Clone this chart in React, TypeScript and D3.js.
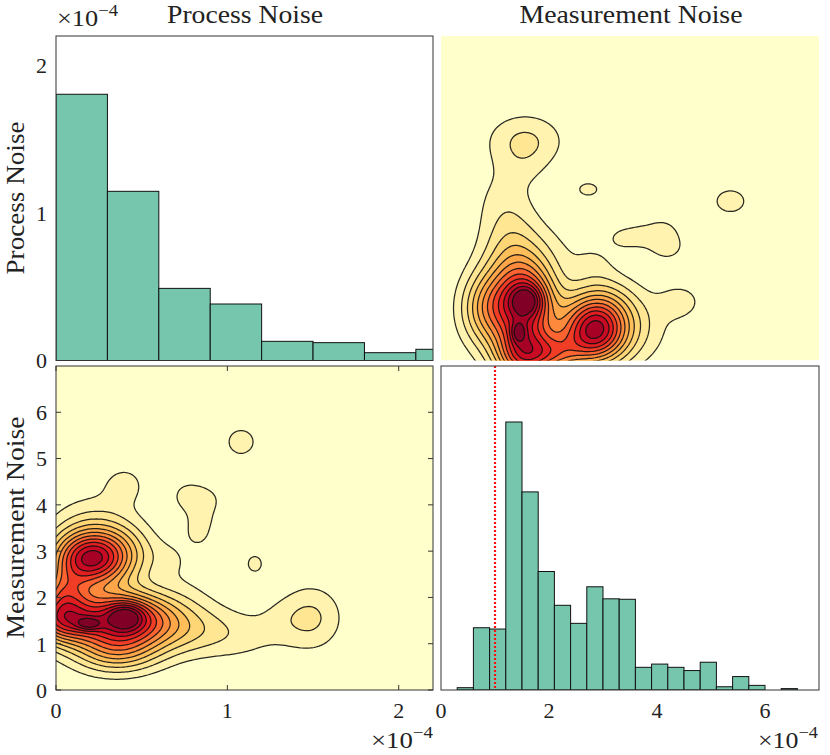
import React from "react";
import * as d3 from "d3";

// ---- data ----
// process-noise histogram (x in 1e-4 units, bar heights in the panel's y units)
const pnBinStart = 0;
const pnBinWidth = 0.3;
const pnBarHeights = [1.805, 1.147, 0.489, 0.383, 0.13, 0.121, 0.053, 0.076];

// measurement-noise histogram
const mnBinStart = 0.3;
const mnBinWidth = 0.3;
const mnBarHeights = [
  0.05, 1.345, 1.317, 5.79, 4.28, 2.56, 1.83, 1.44, 2.23, 1.97, 1.96,
  0.49, 0.56, 0.49, 0.42, 0.6, 0.07, 0.29, 0.1, 0, 0.03,
];
const mnReference = 1.0; // red dotted line

// density bumps: [pn, mn, weight, sdPn, sdMn]
const densityBumps: number[][] = [
  [0.19, 2.83, 10.0, 0.15, 0.42],
  [0.38, 2.95, 2.5, 0.14, 0.45],
  [0.38, 1.55, 10.0, 0.2, 0.4],
  [0.03, 1.5, 7.0, 0.13, 0.35],
  [0.04, 2.1, 4.5, 0.1, 0.35],
  [0.41, 1.6, 3.0, 0.07, 0.2],
  [0.19, 1.43, 2.7, 0.05, 0.1],
  [0.35, 0.85, 4.5, 0.18, 0.35],
  [0.22, 3.6, 1.5, 0.18, 0.5],
  [0.4, 4.45, 1.3, 0.09, 0.3],
  [0.75, 1.3, 2.5, 0.2, 0.4],
  [1.1, 1.15, 1.0, 0.17, 0.4],
  [1.3, 1.55, 0.5, 0.1, 0.35],
  [1.49, 1.56, 2.15, 0.13, 0.5],
  [0.68, 2.85, 0.8, 0.1, 0.3],
  [0.75, 2.1, 0.6, 0.15, 0.4],
  [0.76, 4.2, 1.1, 0.085, 0.3],
  [0.9, 4.1, 0.9, 0.085, 0.3],
  [0.84, 3.55, 1.0, 0.08, 0.25],
  [0.83, 3.32, 0.7, 0.04, 0.15],
  [1.08, 5.36, 1.4, 0.085, 0.3],
  [1.16, 2.73, 1.2, 0.06, 0.25],
];
const contourLevels = [1, 2, 3, 4, 5, 6, 7, 8, 9, 10, 11, 12];

const pnTicks = [0, 1, 2];
const mnTicks = [0, 1, 2, 3, 4, 5, 6];
const mnHistTicks = [0, 2, 4, 6];
const titles = ["Process Noise", "Measurement Noise"];

// ---- layout ----
const W = 830;
const H = 755;
const L = { x0: 56, x1: 433 };
const R = { x0: 441, x1: 819 };
const T = { y0: 36, y1: 360.5 };
const B = { y0: 366, y1: 690 };
const FONT = "'Liberation Serif', 'Times New Roman', serif";
const BAR = "#76c6ad";

const xPN = d3.scaleLinear().domain([0, 2.2]).range([L.x0, L.x1]);
const yPN = d3.scaleLinear().domain([0, 2.2]).range([T.y1, T.y0]);
const xMN = d3.scaleLinear().domain([0, 7]).range([R.x0, R.x1]);
const yMN = d3.scaleLinear().domain([0, 7]).range([B.y1, B.y0]);
const levelColor = (k: number) => d3.interpolateYlOrRd(k / contourLevels.length);

// density grid
const gp0 = -0.1, gp1 = 2.3, gm0 = -0.2, gm1 = 7.2;
const NX = 240, NY = 200;
const gridP = (gx: number) => gp0 + (gx / NX) * (gp1 - gp0);
const gridM = (gy: number) => gm0 + (gy / NY) * (gm1 - gm0);
function density(p: number, m: number) {
  let s = 0;
  for (const [bp, bm, w, sp, sm] of densityBumps) {
    const a = (p - bp) / sp;
    const b = (m - bm) / sm;
    s += w * Math.exp(-0.5 * (a * a + b * b));
  }
  return s;
}
const values: number[] = new Array(NX * NY);
for (let j = 0; j < NY; j++) {
  const m = gridM(j + 0.5);
  for (let i = 0; i < NX; i++) values[j * NX + i] = density(gridP(i + 0.5), m);
}
const contourSet = d3.contours().size([NX, NY]).thresholds(contourLevels)(values);

function ringsPath(mp: any, fx: (gx: number, gy: number) => number, fy: (gx: number, gy: number) => number) {
  let d = "";
  for (const poly of mp.coordinates)
    for (const ring of poly) {
      ring.forEach((pt: number[], i: number) => {
        d += (i ? "L" : "M") + fx(pt[0], pt[1]).toFixed(2) + "," + fy(pt[0], pt[1]).toFixed(2);
      });
      d += "Z";
    }
  return d;
}

function Sci({ x, y, len }: { x: number; y: number; len: number }) {
  return (
    <text x={x} y={y} fontFamily={FONT} fontSize={24} fill="#222" textLength={len} lengthAdjust="spacingAndGlyphs">
      ×10
      <tspan dy={-10} fontSize={17}>−4</tspan>
    </text>
  );
}

export default function App() {
  const blPaths = contourSet.map((c) =>
    ringsPath(c, (gx) => xPN(gridP(gx)), (_gx, gy) => yMN(gridM(gy)))
  );
  const trPaths = contourSet.map((c) =>
    ringsPath(c, (_gx, gy) => xMN(gridM(gy)), (gx) => yPN(gridP(gx)))
  );
  const lineC = "#111";
  return (
    <svg width={W} height={H} style={{ display: "block", position: "absolute", left: 0, top: 0 }}>
      <defs>
        <clipPath id="cTL"><rect x={L.x0} y={T.y0} width={L.x1 - L.x0} height={T.y1 - T.y0} /></clipPath>
        <clipPath id="cTR"><rect x={R.x0} y={T.y0} width={R.x1 - R.x0} height={T.y1 - T.y0} /></clipPath>
        <clipPath id="cBL"><rect x={L.x0} y={B.y0} width={L.x1 - L.x0} height={B.y1 - B.y0} /></clipPath>
        <clipPath id="cBR"><rect x={R.x0} y={B.y0} width={R.x1 - R.x0} height={B.y1 - B.y0} /></clipPath>
      </defs>
      <rect width={W} height={H} fill="#fff" />

      {/* titles */}
      <text x={245} y={23} textAnchor="middle" fontFamily={FONT} fontSize={25} fill="#222" textLength={156} lengthAdjust="spacingAndGlyphs">{titles[0]}</text>
      <text x={631} y={23} textAnchor="middle" fontFamily={FONT} fontSize={25} fill="#222" textLength={223} lengthAdjust="spacingAndGlyphs">{titles[1]}</text>
      <text transform="translate(24,198) rotate(-90)" textAnchor="middle" fontFamily={FONT} fontSize={25} fill="#222" textLength={153} lengthAdjust="spacingAndGlyphs">{titles[0]}</text>
      <text transform="translate(24,527.5) rotate(-90)" textAnchor="middle" fontFamily={FONT} fontSize={25} fill="#222" textLength={222} lengthAdjust="spacingAndGlyphs">{titles[1]}</text>

      {/* top-left histogram */}
      <g clipPath="url(#cTL)">
        {pnBarHeights.map((h, i) => {
          const a = pnBinStart + i * pnBinWidth;
          return (
            <rect key={i} x={xPN(a)} y={yPN(h)} width={xPN(a + pnBinWidth) - xPN(a)} height={yPN(0) - yPN(h)}
              fill={BAR} stroke={lineC} strokeWidth={1} />
          );
        })}
      </g>
      <rect x={L.x0} y={T.y0} width={L.x1 - L.x0} height={T.y1 - T.y0} fill="none" stroke="#333" strokeWidth={1} />
      {[0, 1, 2].map((t) => (
        <text key={t} x={47} y={yPN(t)} dy="0.36em" textAnchor="end" fontFamily={FONT} fontSize={22} fill="#222">{t}</text>
      ))}
      <Sci x={57} y={26} len={61} />

      {/* top-right contour */}
      <g clipPath="url(#cTR)">
        <rect x={R.x0} y={T.y0} width={R.x1 - R.x0} height={T.y1 - T.y0} fill={levelColor(0)} />
        {trPaths.map((d, k) => (
          <path key={k} d={d} fill={levelColor(k + 1)} stroke={lineC} strokeOpacity={0.9} strokeWidth={1.25} />
        ))}
      </g>

      {/* bottom-left contour */}
      <g clipPath="url(#cBL)">
        <rect x={L.x0} y={B.y0} width={L.x1 - L.x0} height={B.y1 - B.y0} fill={levelColor(0)} />
        {blPaths.map((d, k) => (
          <path key={k} d={d} fill={levelColor(k + 1)} stroke={lineC} strokeOpacity={0.9} strokeWidth={1.25} />
        ))}
      </g>
      <rect x={L.x0} y={B.y0} width={L.x1 - L.x0} height={B.y1 - B.y0} fill="none" stroke="#333" strokeWidth={1} />
      {mnTicks.map((t) => (
        <g key={t}>
          <line x1={L.x0} x2={L.x0 + 5} y1={yMN(t)} y2={yMN(t)} stroke="#333" />
          <line x1={L.x1} x2={L.x1 - 5} y1={yMN(t)} y2={yMN(t)} stroke="#333" />
          <text x={47} y={yMN(t)} dy="0.36em" textAnchor="end" fontFamily={FONT} fontSize={22} fill="#222">{t}</text>
        </g>
      ))}
      {pnTicks.map((t) => (
        <g key={t}>
          <line x1={xPN(t)} x2={xPN(t)} y1={B.y1} y2={B.y1 - 5} stroke="#333" />
          <line x1={xPN(t)} x2={xPN(t)} y1={B.y0} y2={B.y0 + 5} stroke="#333" />
          <text x={xPN(t)} y={718} textAnchor="middle" fontFamily={FONT} fontSize={22} fill="#222">{t}</text>
        </g>
      ))}
      <Sci x={371} y={748} len={62} />

      {/* bottom-right histogram */}
      <g clipPath="url(#cBR)">
        {mnBarHeights.map((h, i) => {
          if (h <= 0) return null;
          const a = mnBinStart + i * mnBinWidth;
          return (
            <rect key={i} x={xMN(a)} y={yMN(h)} width={xMN(a + mnBinWidth) - xMN(a)} height={yMN(0) - yMN(h)}
              fill={BAR} stroke={lineC} strokeWidth={1} />
          );
        })}
        <line x1={xMN(mnReference)} x2={xMN(mnReference)} y1={B.y0} y2={B.y1} stroke="#ff1010" strokeWidth={2.2} strokeDasharray="2,2" />
      </g>
      <rect x={R.x0} y={B.y0} width={R.x1 - R.x0} height={B.y1 - B.y0} fill="none" stroke="#333" strokeWidth={1} />
      {mnHistTicks.map((t) => (
        <text key={t} x={xMN(t)} y={718} textAnchor="middle" fontFamily={FONT} fontSize={22} fill="#222">{t}</text>
      ))}
      <Sci x={758} y={748} len={60} />
    </svg>
  );
}
